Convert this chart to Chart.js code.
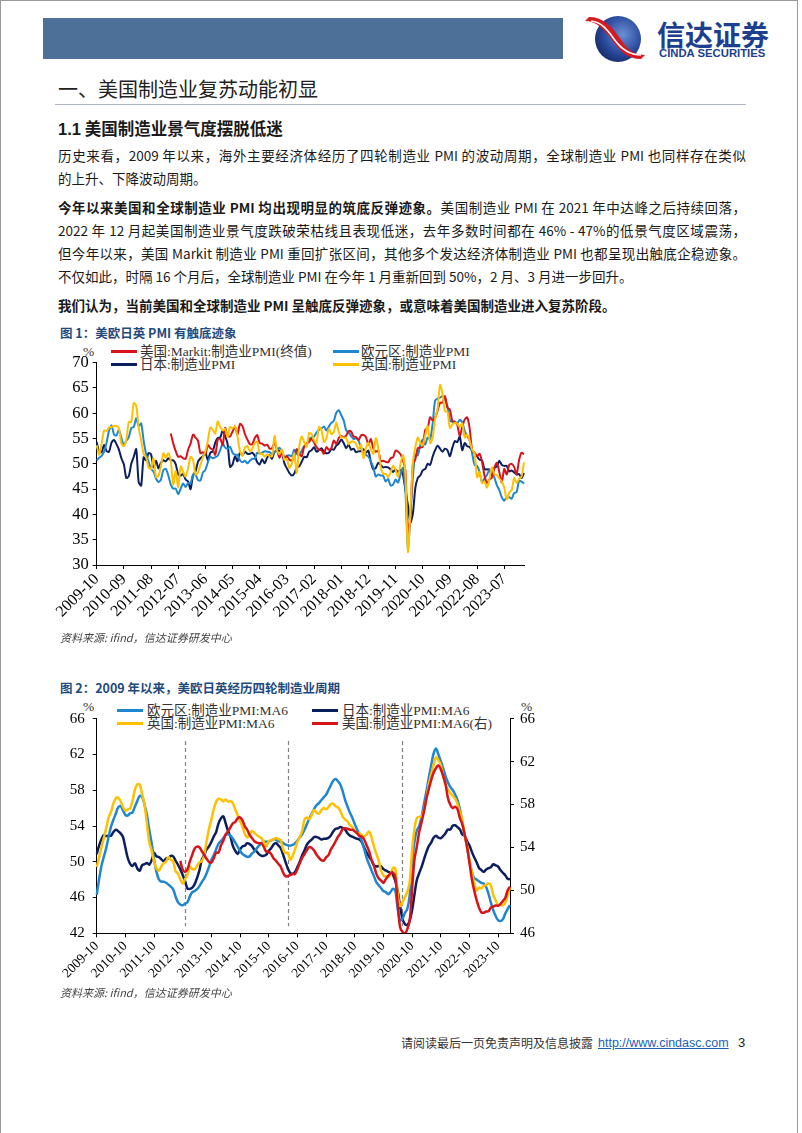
<!DOCTYPE html>
<html><head><meta charset="utf-8">
<script src="https://cdn.jsdelivr.net/npm/chart.js@4.4.1/dist/chart.umd.min.js"></script>
<style>
html,body{margin:0;padding:0;background:#fff;}
body{width:802px;height:1133px;position:relative;overflow:hidden;font-family:"Noto Sans CJK SC",sans-serif;color:#1a1a1a;}
.frame{position:absolute;left:0;top:0;width:798px;height:1133px;border-left:1px solid #9a9a9a;border-top:1px solid #9a9a9a;border-right:1px solid #9a9a9a;box-sizing:border-box;}
.band{position:absolute;left:43px;top:18px;width:520px;height:41px;background:#4d7098;}
.abs{position:absolute;white-space:nowrap;}
.ln{position:absolute;left:58px;width:688px;font-size:13.5px;line-height:20px;height:20px;text-align:justify;text-align-last:justify;overflow:visible;}
.ln.last{text-align-last:left;}
.b{font-weight:bold;}
.ctitle{position:absolute;left:60px;font-size:12.5px;font-weight:bold;color:#1f4a7d;line-height:16px;white-space:nowrap;}
.src{position:absolute;left:60px;font-size:11px;font-style:italic;color:#444;line-height:14px;white-space:nowrap;}
.leg{position:absolute;font-family:"Liberation Serif","Noto Sans CJK SC",serif;font-size:13.5px;line-height:13px;color:#333;white-space:nowrap;}
.sw{position:absolute;height:3px;width:26px;}
canvas{position:absolute;}
</style></head>
<body>
<div class="frame"></div>
<div class="band"></div>
<svg class="abs" style="left:583px;top:15px" width="66" height="48" viewBox="0 0 66 48">
 <defs><radialGradient id="g" cx="0.6" cy="0.4" r="0.7"><stop offset="0" stop-color="#6a8fd6"/><stop offset="0.6" stop-color="#2a4a9c"/><stop offset="1" stop-color="#14265e"/></radialGradient></defs>
 <circle cx="35" cy="24" r="23" fill="url(#g)"/>
 <path d="M2 6 C13 6 21 14 29 25 C37 36 44 44 58 44 L62 40 C48 40 42 31 36 22 C28 10 19 2 6 2 Z" fill="#d71920"/>
 <path d="M8 6 C18 7 24 14 31 24 C38 34 46 40 58 40" stroke="#fff" stroke-width="1.6" fill="none"/>
</svg>
<div class="abs" style="left:657px;top:19px;font-size:28px;font-weight:bold;color:#1d3f8f;line-height:31px">信达证券</div>
<div class="abs" style="left:659px;top:48px;font-family:'Liberation Sans',Arial,sans-serif;font-size:11.3px;font-weight:bold;color:#1d3f8f;line-height:11px">CINDA SECURITIES</div>

<div class="abs" style="left:58px;top:77px;font-size:20px;line-height:24px;color:#222">一、美国制造业复苏动能初显</div>
<div class="abs" style="left:55px;top:104px;width:691px;height:1px;background:#aeb7c6"></div>

<div class="abs b" style="left:58px;top:118px;font-size:16.5px;line-height:20px"><span style="font-family:'Liberation Sans',Arial,sans-serif">1.1</span> 美国制造业景气度摆脱低迷</div>

<div class="ln" style="top:145px">历史来看，2009 年以来，海外主要经济体经历了四轮制造业 PMI 的波动周期，全球制造业 PMI 也同样存在类似</div>
<div class="ln last" style="top:168px">的上升、下降波动周期。</div>

<div class="ln" style="top:197px"><span class="b">今年以来美国和全球制造业 PMI 均出现明显的筑底反弹迹象。</span>美国制造业 PMI 在 2021 年中达峰之后持续回落，</div>
<div class="ln" style="top:220px">2022 年 12 月起美国制造业景气度跌破荣枯线且表现低迷，去年多数时间都在 46% - 47%的低景气度区域震荡，</div>
<div class="ln" style="top:243px">但今年以来，美国 Markit 制造业 PMI 重回扩张区间，其他多个发达经济体制造业 PMI 也都呈现出触底企稳迹象。</div>
<div class="ln last" style="top:266px">不仅如此，时隔 16 个月后，全球制造业 PMI 在今年 1 月重新回到 50%，2 月、3 月进一步回升。</div>

<div class="ln last b" style="top:295px">我们认为，当前美国和全球制造业 PMI 呈触底反弹迹象，或意味着美国制造业进入复苏阶段。</div>

<div class="ctitle" style="top:325px">图 1：美欧日英 PMI 有触底迹象</div>

<div class="sw" style="left:111px;top:350px;background:#d7141a"></div>
<div class="leg" style="left:140px;top:345px">美国:Markit:制造业PMI(终值)</div>
<div class="sw" style="left:333px;top:350px;background:#1f86d0"></div>
<div class="leg" style="left:361px;top:345px">欧元区:制造业PMI</div>
<div class="sw" style="left:111px;top:363px;background:#0b1f5e"></div>
<div class="leg" style="left:140px;top:358px">日本:制造业PMI</div>
<div class="sw" style="left:333px;top:363px;background:#ffc000"></div>
<div class="leg" style="left:361px;top:358px">英国:制造业PMI</div>
<div class="leg" style="left:83px;top:345px">%</div>

<canvas id="c1" width="500" height="300" style="left:40px;top:340px"></canvas>
<div class="src" style="top:630px">资料来源: ifind，信达证券研发中心</div>

<div class="ctitle" style="top:680px">图 2：2009 年以来，美欧日英经历四轮制造业周期</div>

<div class="sw" style="left:117px;top:709px;background:#1f86d0"></div>
<div class="leg" style="left:147px;top:704px">欧元区:制造业PMI:MA6</div>
<div class="sw" style="left:312px;top:709px;background:#0b1f5e"></div>
<div class="leg" style="left:342px;top:704px">日本:制造业PMI:MA6</div>
<div class="sw" style="left:117px;top:722px;background:#ffc000"></div>
<div class="leg" style="left:147px;top:717px">英国:制造业PMI:MA6</div>
<div class="sw" style="left:312px;top:722px;background:#d7141a"></div>
<div class="leg" style="left:342px;top:717px">美国:制造业PMI:MA6(右)</div>
<div class="leg" style="left:83px;top:700px">%</div>
<div class="leg" style="left:521px;top:700px">%</div>

<canvas id="c2" width="520" height="290" style="left:40px;top:695px"></canvas>
<div class="src" style="top:985px">资料来源: ifind，信达证券研发中心</div>

<div class="abs" style="left:401px;top:1035px;font-size:12px;line-height:16px;color:#333">请阅读最后一页免责声明及信息披露</div>
<div class="abs" style="left:598px;top:1035px;font-family:'Liberation Sans',Arial,sans-serif;font-size:12.5px;line-height:16px;color:#1a5fb4;text-decoration:underline">http://www.cindasc.com</div>
<div class="abs" style="left:738px;top:1035px;font-family:'Liberation Sans',Arial,sans-serif;font-size:13px;line-height:16px;color:#222">3</div>

<script>
// ---------- categories ----------
const months = [];
for (let y = 2009, m = 10; !(y === 2024 && m === 4);) {
  months.push(y + '-' + String(m).padStart(2, '0'));
  m++; if (m > 12) { m = 1; y++; }
}
const chart1TickLabels = ['2009-10','2010-09','2011-08','2012-07','2013-06','2014-05','2015-04','2016-03','2017-02','2018-01','2018-12','2019-11','2020-10','2021-09','2022-08','2023-07'];
const chart2TickLabels = ['2009-10','2010-10','2011-10','2012-10','2013-10','2014-10','2015-10','2016-10','2017-10','2018-10','2019-10','2020-10','2021-10','2022-10','2023-10'];
const cycleMarks = ['2012-11','2016-06','2020-06'];

// ---------- chart 1: monthly PMI, 2009-10 .. 2024-03 ----------
const N = null;
const usPMI = [N,N,N,N,N,N,N,N,N,N,N,N,N,N,N,N,N,N,N,N,N,N,N,N,N,N,N,N,N,N,
 56.0,54.0,52.5,51.4,51.5,51.1,51.0,52.8,54.0,
 55.8,55.2,54.6,52.1,52.3,51.9,53.7,53.1,52.8,51.8,54.7,55.0,
 53.7,57.1,55.5,55.4,56.4,57.3,55.8,57.9,57.5,55.9,54.8,53.9,
 53.9,55.1,55.7,54.1,54.0,53.6,53.8,53.0,53.1,54.1,52.8,51.2,
 52.4,51.3,51.5,50.8,50.7,51.3,52.9,52.0,51.5,53.4,54.1,54.3,
 55.0,54.2,53.3,52.8,52.7,52.0,53.3,52.8,53.1,54.6,53.9,55.1,
 55.5,55.3,55.6,56.5,56.4,55.4,55.3,54.7,55.6,55.7,55.3,53.8,
 54.9,53.0,52.4,52.6,50.5,50.6,50.4,50.3,51.1,51.3,52.6,52.4,
 51.9,50.7,48.5,36.1,39.8,49.8,50.9,53.1,53.2,53.4,56.7,57.1,
 59.2,58.6,59.1,60.5,62.1,62.1,63.4,61.1,60.7,58.4,58.3,57.7,
 55.5,57.3,58.8,59.2,57.0,52.7,52.2,51.5,52.0,50.4,47.7,46.2,
 46.9,47.3,49.2,50.2,48.4,46.3,49.0,47.9,49.8,50.0,49.4,47.9,
 50.7,52.2,51.9];
const euroPMI = [50.7,51.2,51.6,
 52.4,54.2,56.6,57.6,55.8,55.6,56.7,55.1,53.7,54.6,55.3,57.1,
 57.3,59.0,57.5,58.0,54.6,52.0,50.4,49.0,48.5,47.1,46.4,46.9,
 48.8,49.0,47.7,45.9,45.1,45.1,44.0,45.1,46.1,45.4,46.2,46.1,
 47.9,47.9,46.8,46.7,48.3,48.8,50.3,51.4,51.1,51.3,51.6,52.7,
 54.0,53.2,53.0,53.4,52.2,51.8,51.8,50.7,50.3,50.6,50.1,50.6,
 51.0,51.0,52.2,52.0,52.2,52.5,52.4,52.3,52.0,52.3,52.8,53.2,
 52.3,51.2,51.6,51.7,51.5,52.8,52.0,51.7,52.6,53.5,53.7,54.9,
 55.2,55.4,56.2,56.7,57.0,57.4,56.6,57.4,58.1,58.5,60.1,60.6,
 59.6,58.6,56.6,56.2,55.5,54.9,55.1,54.6,53.2,52.0,51.8,51.4,
 50.5,49.3,47.5,47.9,47.7,47.6,46.5,47.0,45.7,45.9,46.9,46.3,
 47.9,49.2,44.5,33.4,39.4,47.4,51.8,51.7,53.7,54.8,53.8,55.2,
 54.8,57.9,62.5,62.9,63.1,63.4,62.8,61.4,58.6,58.3,58.4,58.0,
 58.7,58.2,56.5,55.5,54.6,52.1,49.8,49.6,48.4,46.4,47.1,47.8,
 48.8,48.5,47.3,45.8,44.8,43.4,42.7,43.5,43.4,43.1,44.2,44.4,
 46.6,46.5,46.1];
const japanPMI = [54.3,52.3,52.3,
 53.8,52.5,52.4,54.2,54.7,53.9,52.8,51.1,49.9,47.2,47.6,50.0,
 51.4,52.9,46.4,45.7,51.3,50.7,52.1,51.9,49.3,50.6,49.1,50.2,
 50.7,50.5,51.1,50.7,50.7,49.9,47.9,47.7,48.0,46.9,46.5,45.0,
 47.7,48.5,50.4,51.1,51.5,52.3,50.7,52.2,52.5,54.2,55.1,55.2,
 56.6,55.5,53.9,49.4,49.9,51.5,50.5,52.2,51.7,52.4,52.0,52.0,
 52.2,51.6,50.3,49.9,50.9,50.1,51.2,51.7,51.0,52.4,52.6,52.6,
 52.3,50.1,49.1,48.2,47.7,48.1,49.3,49.5,50.4,51.4,51.3,52.4,
 52.7,53.3,52.4,52.7,53.1,52.4,52.1,52.2,52.9,52.8,53.6,54.0,
 54.8,54.1,53.1,53.8,52.8,53.0,52.3,52.5,52.5,52.9,52.2,52.6,
 50.3,48.9,49.2,50.2,49.8,49.3,49.4,49.3,48.9,48.4,48.9,48.4,
 48.8,47.8,44.8,41.9,38.4,40.1,45.2,47.2,47.7,48.7,49.0,50.0,
 49.8,51.4,52.7,53.6,53.0,52.4,53.0,52.7,51.5,53.2,54.5,54.3,
 55.4,52.7,54.1,53.5,53.3,52.7,52.1,51.5,50.8,50.7,49.0,48.9,
 48.9,47.7,49.2,49.5,50.6,49.8,49.6,49.6,48.5,48.7,48.3,47.9,
 48.0,47.2,48.2];
const ukPMI = [53.7,51.8,54.1,
 56.6,56.5,57.2,57.3,57.5,57.5,57.0,54.0,53.5,54.8,58.3,58.3,
 62.0,61.5,57.1,54.6,52.0,51.3,49.3,49.0,51.1,47.4,47.6,49.6,
 52.1,51.2,52.1,50.5,45.9,48.6,45.4,49.5,48.4,47.5,49.1,51.4,
 50.8,47.9,48.3,49.8,51.3,52.5,54.6,57.2,56.7,56.0,58.4,57.3,
 56.6,56.9,55.3,57.3,57.0,57.5,55.4,52.5,51.6,53.2,53.5,52.5,
 53.0,54.1,54.4,51.9,52.0,51.4,51.9,51.5,51.5,55.5,52.7,51.9,
 52.9,50.8,51.0,49.2,50.1,52.1,48.2,53.3,55.4,54.3,53.4,56.1,
 55.9,54.6,54.2,57.3,56.7,54.3,55.1,56.9,55.9,56.3,58.2,56.3,
 55.3,55.2,55.1,53.9,54.4,54.4,54.0,52.8,53.8,51.1,53.1,54.2,
 52.8,52.0,55.1,53.1,49.4,48.0,48.0,47.4,48.3,49.6,48.9,47.5,
 50.0,51.7,47.8,32.6,40.7,50.1,53.3,55.2,54.1,53.7,55.6,57.5,
 54.1,55.1,58.9,60.9,65.6,63.9,60.4,60.3,57.1,57.8,58.1,57.9,
 57.3,58.0,55.2,55.8,54.6,52.8,52.1,47.3,48.4,46.2,46.5,45.3,
 47.0,49.3,47.9,47.8,47.1,46.5,45.3,43.0,44.3,44.8,47.2,46.2,
 47.0,47.5,50.3];

// ---------- chart 2: 6-month averages ----------
const euroMA6 = [46.30,48.05,49.55,
 50.57,51.57,52.78,53.93,54.70,55.37,56.08,56.23,55.75,55.25,55.17,55.42,
 55.52,56.17,56.80,57.37,57.25,56.40,55.25,53.58,52.08,50.27,48.90,48.05,
 47.78,47.78,47.65,47.45,47.23,46.93,46.13,45.48,45.22,45.13,45.32,45.48,
 46.13,46.60,46.72,46.93,47.28,47.73,48.13,48.72,49.43,50.20,50.75,51.40,
 52.02,52.32,52.63,52.98,53.08,52.93,52.57,52.15,51.70,51.23,50.88,50.68,
 50.55,50.60,50.92,51.15,51.50,51.82,52.05,52.27,52.23,52.28,52.38,52.50,
 52.48,52.30,52.23,52.13,51.92,51.85,51.80,51.88,52.05,52.35,52.72,53.07,
 53.60,54.22,54.82,55.35,55.90,56.32,56.55,56.88,57.20,57.50,58.02,58.55,
 59.05,59.25,59.00,58.62,57.85,56.90,56.15,55.48,54.92,54.22,53.60,53.02,
 52.25,51.37,50.42,49.73,49.05,48.42,47.75,47.37,47.07,46.73,46.60,46.38,
 46.62,46.98,46.78,44.70,43.45,43.63,44.28,44.70,46.23,49.80,52.20,53.50,
 54.00,55.03,56.50,57.85,59.40,60.77,62.10,62.68,62.03,61.27,60.48,59.58,
 58.90,58.37,58.02,57.55,56.92,55.93,54.45,53.02,51.67,50.15,48.90,48.18,
 48.02,47.83,47.65,47.55,47.17,46.43,45.42,44.58,43.93,43.48,43.38,43.55,
 44.20,44.70,45.15];
const japanMA6 = [50.85,51.80,52.52,
 53.00,52.87,52.93,52.92,53.32,53.58,53.42,53.18,52.77,51.60,50.42,49.77,
 49.53,49.83,49.25,49.00,49.62,49.73,49.85,49.68,50.17,50.98,50.62,50.53,
 50.30,50.07,50.37,50.38,50.65,50.60,50.13,49.67,49.15,48.52,47.82,47.00,
 46.97,47.10,47.50,48.20,49.03,50.25,50.75,51.37,51.72,52.23,52.83,53.32,
 54.30,54.85,55.08,54.28,53.42,52.80,51.78,51.23,50.87,51.37,51.72,51.80,
 52.08,51.98,51.75,51.33,51.15,50.83,50.67,50.68,50.80,51.22,51.50,51.92,
 52.10,51.83,51.52,50.82,50.00,49.25,48.75,48.65,48.87,49.40,50.00,50.72,
 51.28,51.92,52.25,52.47,52.77,52.77,52.67,52.48,52.57,52.58,52.67,52.93,
 53.38,53.70,53.73,53.90,53.77,53.60,53.18,52.92,52.82,52.67,52.57,52.50,
 52.17,51.57,51.02,50.57,50.17,49.62,49.47,49.53,49.48,49.18,49.03,48.88,
 48.78,48.53,47.85,46.77,45.02,43.63,43.03,42.93,43.42,44.55,46.32,47.97,
 48.73,49.43,50.27,51.08,51.75,52.15,52.68,52.90,52.70,52.63,52.88,53.20,
 53.60,53.60,54.03,54.08,53.88,53.62,53.07,52.87,52.32,51.85,51.13,50.50,
 49.97,49.33,49.07,48.87,49.13,49.28,49.40,49.72,49.60,49.47,49.08,48.77,
 48.50,48.10,48.05];
const ukMA6 = [49.42,50.48,51.60,
 52.67,53.77,54.98,55.58,56.53,57.10,57.17,56.75,56.13,55.72,55.85,55.98,
 56.82,58.07,58.67,58.63,57.58,56.42,54.30,52.22,51.22,50.02,49.28,49.00,
 49.47,49.83,50.00,50.52,50.23,50.07,48.95,48.67,48.05,47.55,48.08,48.55,
 49.45,49.18,49.17,49.55,49.92,50.10,50.73,52.28,53.68,54.72,55.90,56.70,
 57.03,56.98,56.75,56.97,56.73,56.77,56.57,55.83,55.22,54.53,53.95,53.12,
 52.72,52.98,53.45,53.23,52.98,52.80,52.62,52.18,51.70,52.30,52.42,52.50,
 52.67,52.55,52.47,51.42,50.98,51.02,50.23,50.65,51.38,52.23,52.78,53.45,
 54.73,54.95,54.75,55.25,55.80,55.50,55.37,55.75,56.03,55.87,56.12,56.45,
 56.48,56.20,56.07,55.67,55.03,54.72,54.50,54.10,53.88,53.42,53.20,53.17,
 52.97,52.83,53.05,53.38,52.77,51.73,50.93,50.17,49.03,48.45,48.37,48.28,
 48.62,49.33,49.25,46.42,45.05,45.48,46.03,46.62,47.67,51.18,53.67,54.90,
 55.03,55.02,55.82,57.02,58.68,59.75,60.80,61.67,61.37,60.85,59.60,58.60,
 58.08,57.70,57.38,57.05,56.47,55.62,54.75,52.97,51.83,50.23,48.88,47.63,
 46.78,47.12,47.03,47.30,47.40,47.60,47.32,46.27,45.67,45.17,45.18,45.13,
 45.42,46.17,47.17];
const usMA6 = [N,N,N,N,N,N,N,N,N,N,N,N,N,N,N,N,N,N,N,N,N,N,N,N,N,N,N,N,N,N,N,N,N,N,N,
 52.75,51.92,51.72,51.97,
 52.70,53.32,53.90,54.08,54.00,53.65,53.30,52.95,52.65,52.60,53.00,53.52,
 53.52,54.18,54.63,55.23,55.52,55.90,56.25,56.38,56.72,56.80,56.53,55.97,
 55.65,55.18,54.88,54.58,54.45,54.40,54.38,54.03,53.60,53.60,53.40,53.00,
 52.77,52.48,52.22,51.67,51.32,51.33,51.42,51.53,51.53,51.97,52.53,53.03,
 53.38,53.75,54.05,53.95,53.72,53.33,53.05,52.82,52.78,53.08,53.28,53.80,
 54.17,54.58,55.00,55.32,55.73,55.78,55.75,55.65,55.65,55.52,55.33,55.07,
 55.00,54.72,54.18,53.67,52.87,52.33,51.58,51.13,50.92,50.70,51.05,51.35,
 51.60,51.67,51.23,48.70,46.57,46.13,45.97,46.37,47.15,50.03,52.85,54.07,
 55.45,56.37,57.35,58.53,59.43,60.27,60.97,61.38,61.65,61.30,60.67,59.93,
 58.62,57.98,57.67,57.80,57.58,56.75,56.20,55.23,54.10,52.63,51.08,50.00,
 49.12,48.42,47.95,47.92,48.03,48.05,48.40,48.50,48.60,48.57,48.73,49.00,
 49.28,50.00,50.35];

// ---------- styles ----------
const RED = '#d7141a', BLUE = '#1f86d0', NAVY = '#0b1f5e', YELLOW = '#ffc000';
const SERIF = "'Liberation Serif','Noto Sans CJK SC',serif";

function lineDS(data, color, order, width, tension) {
  return { data, borderColor: color, backgroundColor: color, borderWidth: width,
    pointRadius: 0, pointHoverRadius: 0, tension, order, spanGaps: false, fill: false };
}
function axisCommon(fontSize) {
  return {
    border: { display: true, color: '#000', width: 1 },
    grid: { display: true, drawOnChartArea: false, drawTicks: true, tickLength: 4, color: '#000' },
    ticks: { color: '#000', font: { family: SERIF, size: fontSize } }
  };
}

// chart 1
const x1 = axisCommon(16);
Object.assign(x1, { type: 'category', offset: false,
  afterFit: s => { s.height = 75; } });
x1.ticks = Object.assign(x1.ticks, { autoSkip: false, minRotation: 45, maxRotation: 45, padding: 1,
  callback: v => chart1TickLabels.includes(months[v]) ? months[v] : null });
const y1 = axisCommon(16.5);
Object.assign(y1, { min: 30, max: 70, afterFit: s => { s.width = 56.7; } });
y1.ticks = Object.assign(y1.ticks, { stepSize: 5, padding: 4 });

new Chart(document.getElementById('c1'), {
  type: 'line',
  data: { labels: months, datasets: [
    lineDS(usPMI, RED, 1, 2, 0.25),
    lineDS(euroPMI, BLUE, 2, 2, 0.25),
    lineDS(japanPMI, NAVY, 3, 2, 0.25),
    lineDS(ukPMI, YELLOW, 0, 2, 0.25)
  ]},
  options: {
    responsive: false, animation: false, devicePixelRatio: 1,
    layout: { padding: { left: 0, right: 16, top: 22.7, bottom: 0 } },
    plugins: { legend: { display: false }, tooltip: { enabled: false } },
    scales: { x: x1, y: y1 }
  }
});

// chart 2
const cycleLines = {
  id: 'cycleLines',
  beforeDatasetsDraw(chart) {
    const { ctx, scales: { x, y } } = chart;
    ctx.save();
    ctx.strokeStyle = '#808080'; ctx.lineWidth = 1.2; ctx.setLineDash([4, 3]);
    cycleMarks.forEach(m => {
      const px = Math.round(x.getPixelForValue(months.indexOf(m))) + 0.5;
      ctx.beginPath();
      ctx.moveTo(px, y.getPixelForValue(63.5));
      ctx.lineTo(px, y.getPixelForValue(42.8));
      ctx.stroke();
    });
    ctx.restore();
  }
};
const x2 = axisCommon(13.5);
Object.assign(x2, { type: 'category', offset: false, afterFit: s => { s.height = 51.7; } });
x2.ticks = Object.assign(x2.ticks, { autoSkip: false, minRotation: 45, maxRotation: 45, padding: 1,
  callback: v => chart2TickLabels.includes(months[v]) ? months[v] : null });
const y2 = axisCommon(15);
Object.assign(y2, { position: 'left', min: 42, max: 66, afterFit: s => { s.width = 56.7; } });
y2.ticks = Object.assign(y2.ticks, { stepSize: 4, padding: 8 });
const y3 = axisCommon(15);
Object.assign(y3, { position: 'right', min: 46, max: 66, afterFit: s => { s.width = 50; } });
y3.ticks = Object.assign(y3.ticks, { stepSize: 4, padding: 6 });

new Chart(document.getElementById('c2'), {
  type: 'line',
  data: { labels: months, datasets: [
    Object.assign(lineDS(euroMA6, BLUE, 2, 2.5, 0.35), { yAxisID: 'y' }),
    Object.assign(lineDS(japanMA6, NAVY, 3, 2.5, 0.35), { yAxisID: 'y' }),
    Object.assign(lineDS(ukMA6, YELLOW, 1, 2.5, 0.35), { yAxisID: 'y' }),
    Object.assign(lineDS(usMA6, RED, 0, 2.5, 0.35), { yAxisID: 'y2' })
  ]},
  options: {
    responsive: false, animation: false, devicePixelRatio: 1,
    layout: { padding: { left: 0, right: 0, top: 23.7, bottom: 0 } },
    plugins: { legend: { display: false }, tooltip: { enabled: false } },
    scales: { x: x2, y: y2, y2: y3 }
  },
  plugins: [cycleLines]
});
</script>
</body></html>
